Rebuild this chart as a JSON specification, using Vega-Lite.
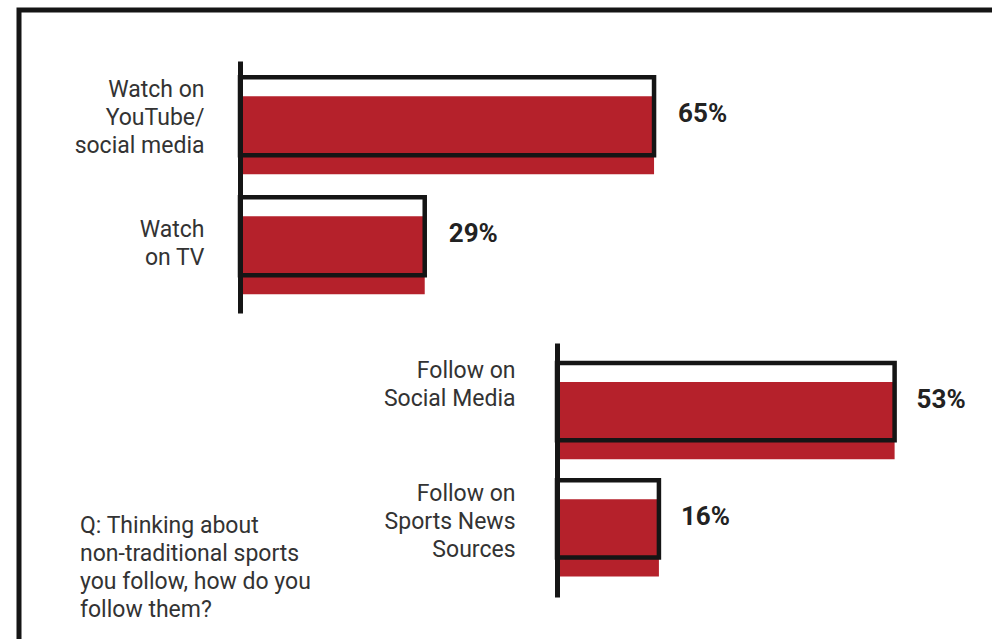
{
  "$schema": "https://vega.github.io/schema/vega-lite/v6.json",
  "width": 973,
  "height": 629,
  "autosize": {"type": "none"},
  "padding": {"left": 19, "top": 10, "right": 0, "bottom": 0},
  "background": "white",
  "datasets": {
    "watch": [
      {"label": "Watch on\nYouTube/\nsocial media", "pct": 65, "text": "65%"},
      {"label": "Watch\non TV", "pct": 29, "text": "29%"}
    ],
    "follow": [
      {"label": "Follow on\nSocial Media", "pct": 53, "text": "53%"},
      {"label": "Follow on\nSports News\nSources", "pct": 16, "text": "16%"}
    ]
  },
  "title": {
    "text": ["Q: Thinking about", "non-traditional sports", "you follow, how do you", "follow them?"],
    "orient": "bottom",
    "anchor": "start",
    "frame": "group",
    "offset": -124,
    "dx": 61,
    "baseline": "top",
    "font": "Roboto",
    "fontSize": 23,
    "fontWeight": "normal",
    "color": "#333333",
    "lineHeight": 28
  },
  "layer": [
    {
      "data": {"name": "watch"},
      "encoding": {
        "y": {
          "field": "label", "type": "nominal", "sort": null,
          "scale": {"range": [51, 303], "paddingInner": 0.35, "paddingOuter": 0.225, "align": 0.3},
          "axis": {
            "orient": "left", "offset": -221, "zindex": 1, "title": null, "grid": false,
            "domain": true, "domainColor": "#151515", "domainWidth": 5,
            "ticks": false, "tickSize": 0, "labelPadding": 36,
            "labelFont": "Roboto", "labelFontSize": 23, "labelColor": "#333333",
            "labelLineHeight": 28, "labelLimit": 300, "labelAlign": "right", "labelBaseline": "middle",
            "labelOffset": {"condition": {"test": "length(split(datum.value, '\\n')) == 3", "value": -26}, "value": -6},
            "labelExpr": "split(datum.value, '\\n')"
          }
        },
        "x": {
          "field": "pct", "type": "quantitative",
          "scale": {"domain": [0, 100], "range": [221, 858], "nice": false},
          "axis": null
        }
      },
      "layer": [
        {"mark": {"type": "bar", "color": "#b5212b", "yOffset": 19}},
        {"mark": {"type": "bar", "fill": "transparent", "stroke": "#151515", "strokeWidth": 4.5}},
        {
          "mark": {"type": "text", "align": "left", "baseline": "middle", "dx": 24, "dy": -2, "font": "Roboto", "fontSize": 26, "fontWeight": "bold", "color": "#222222"},
          "encoding": {"text": {"field": "text"}}
        }
      ]
    },
    {
      "data": {"name": "follow"},
      "encoding": {
        "y": {
          "field": "label", "type": "nominal", "sort": null,
          "scale": {"range": [333, 587], "paddingInner": 0.34, "paddingOuter": 0.254, "align": 0.336},
          "axis": {
            "orient": "left", "offset": -538, "zindex": 1, "title": null, "grid": false,
            "domain": true, "domainColor": "#151515", "domainWidth": 5,
            "ticks": false, "tickSize": 0, "labelPadding": 42,
            "labelFont": "Roboto", "labelFontSize": 23, "labelColor": "#333333",
            "labelLineHeight": 28, "labelLimit": 300, "labelAlign": "right", "labelBaseline": "middle",
            "labelOffset": {"condition": {"test": "length(split(datum.value, '\\n')) == 3", "value": -25}, "value": -31},
            "labelExpr": "split(datum.value, '\\n')"
          }
        },
        "x": {
          "field": "pct", "type": "quantitative",
          "scale": {"domain": [0, 100], "range": [538, 1175], "nice": false},
          "axis": null
        }
      },
      "layer": [
        {"mark": {"type": "bar", "color": "#b5212b", "yOffset": 19}},
        {"mark": {"type": "bar", "fill": "transparent", "stroke": "#151515", "strokeWidth": 4.5}},
        {
          "mark": {"type": "text", "align": "left", "baseline": "middle", "dx": 22, "dy": -2, "font": "Roboto", "fontSize": 26, "fontWeight": "bold", "color": "#222222"},
          "encoding": {"text": {"field": "text"}}
        }
      ]
    }
  ],
  "resolve": {
    "scale": {"x": "independent", "y": "independent"},
    "axis": {"x": "independent", "y": "independent"}
  },
  "config": {
    "view": {"stroke": "#151515", "strokeWidth": 5, "strokeDash": [973, 1602, 629, 20], "strokeCap": "square"}
  }
}
